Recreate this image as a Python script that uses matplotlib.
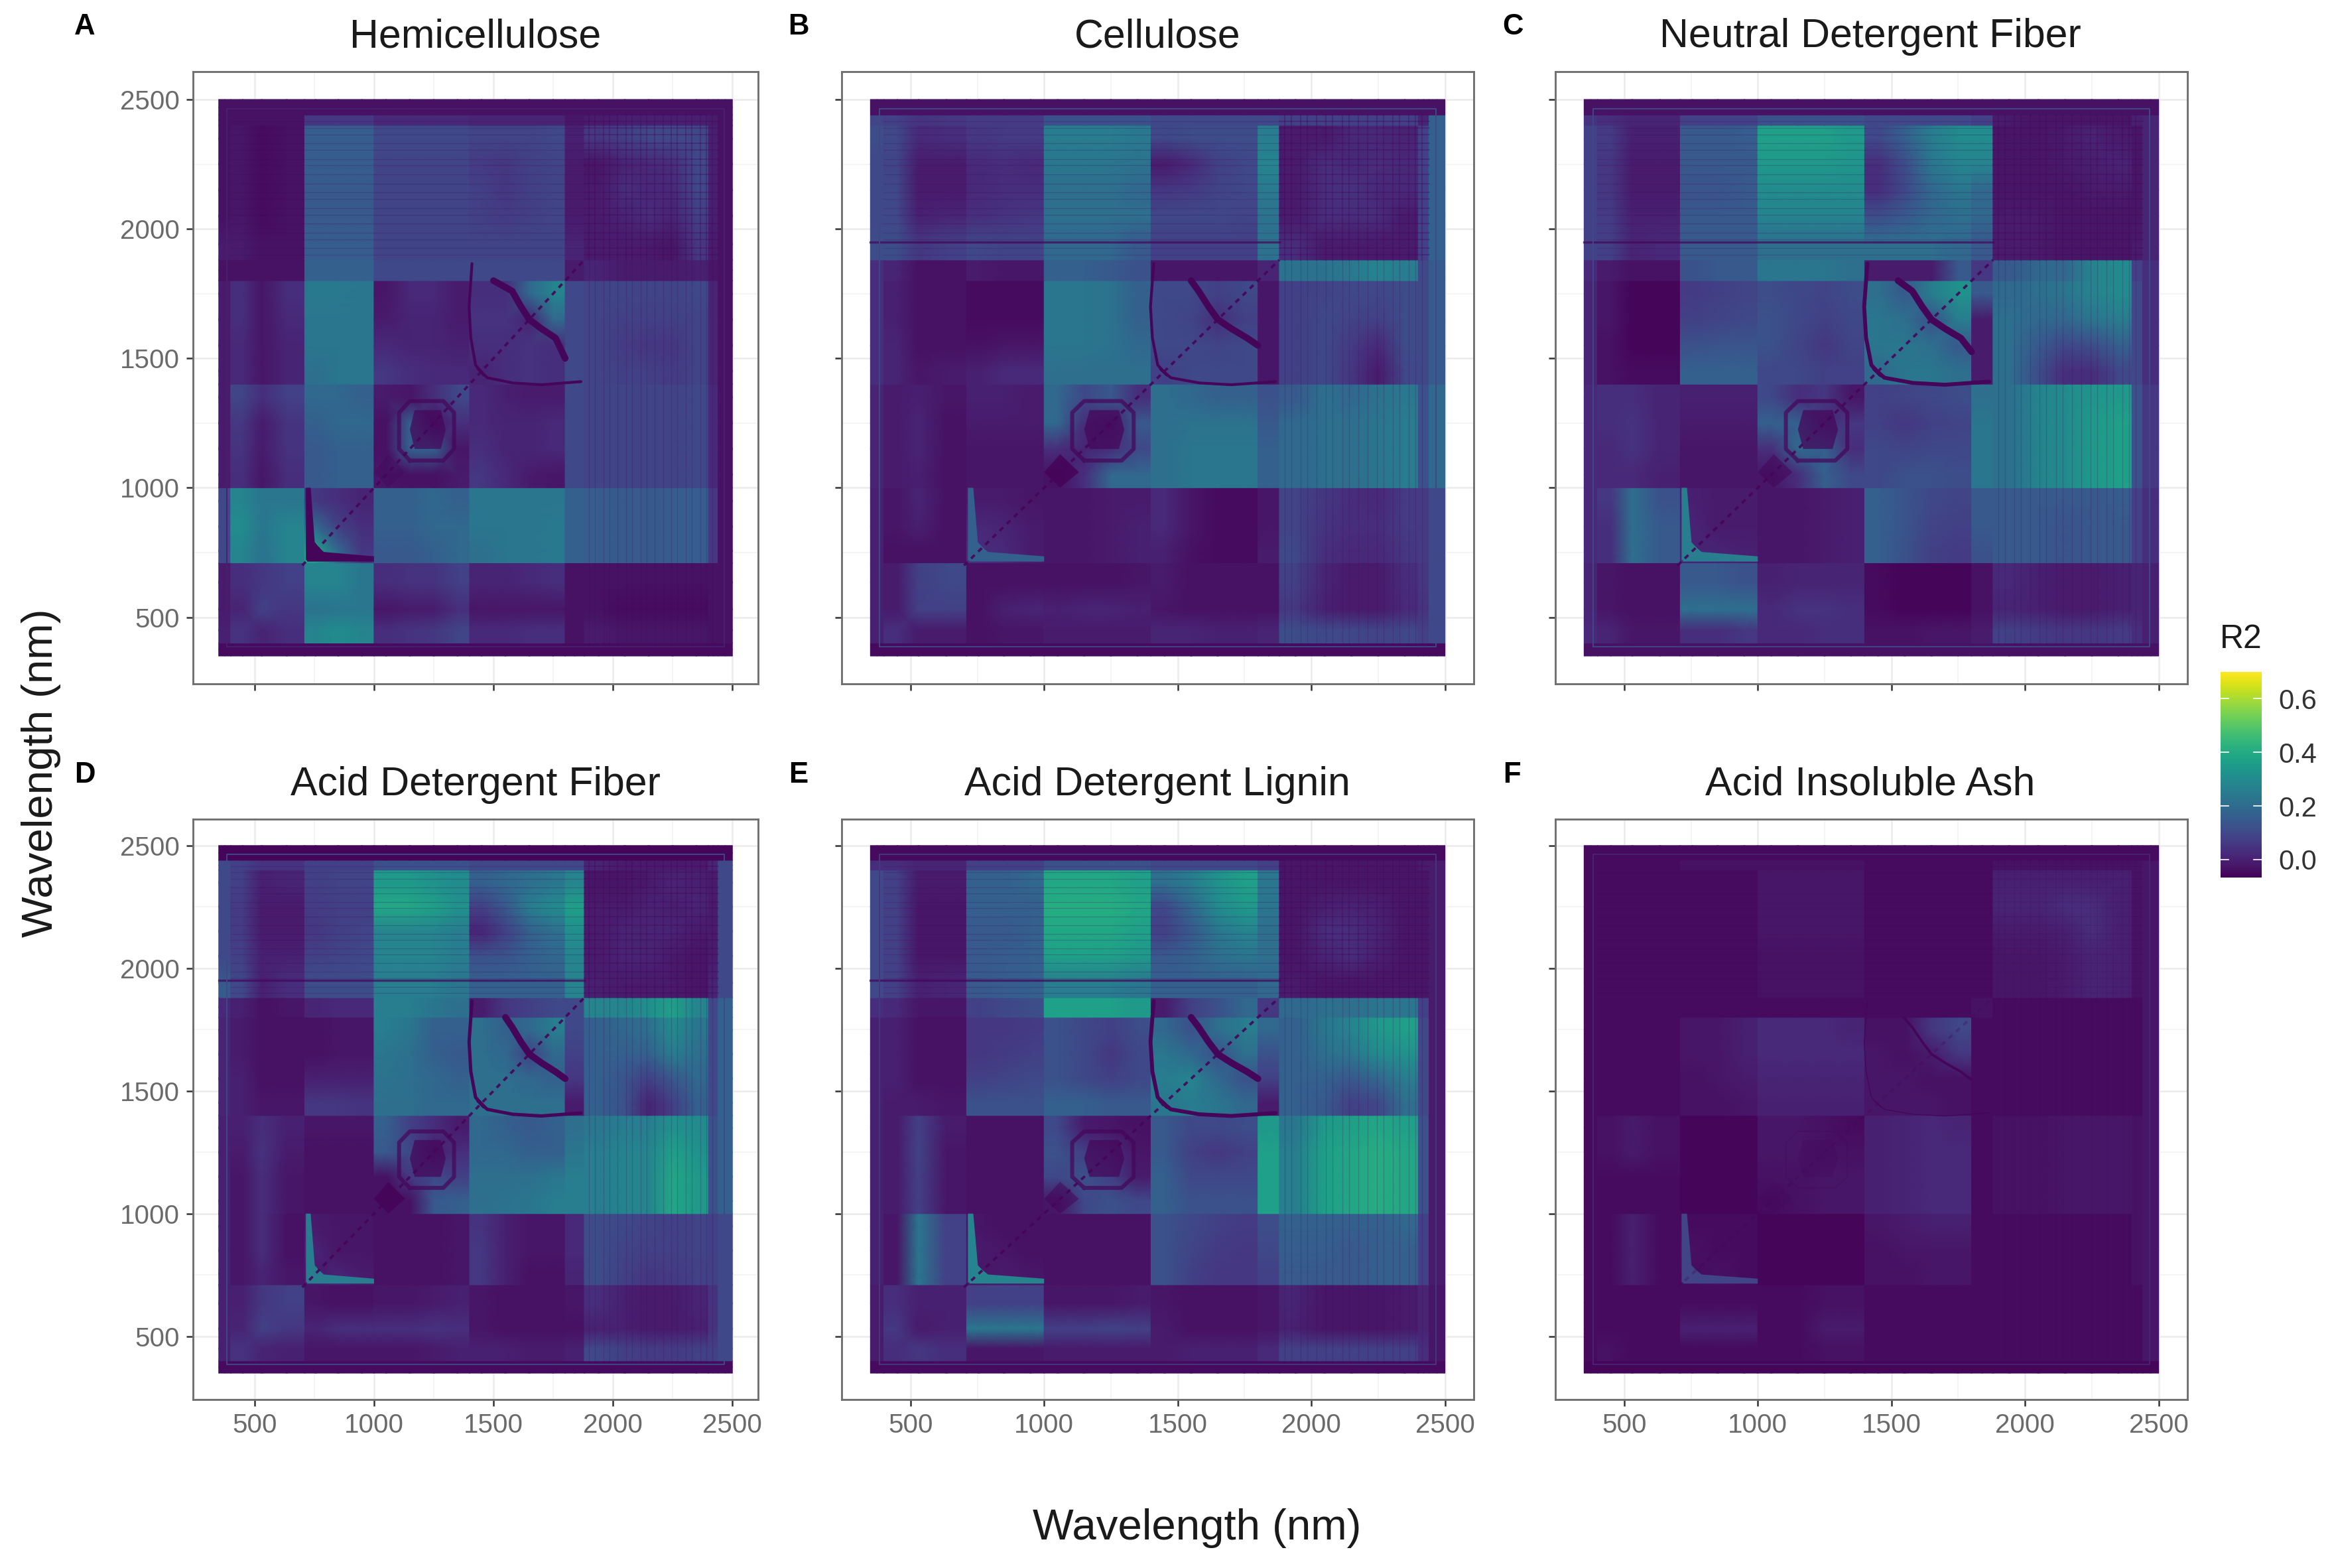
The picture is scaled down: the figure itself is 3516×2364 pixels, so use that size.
#!/usr/bin/env python
"""
R2 heatmaps of all wavelength pairs for six fibre traits
"""
import numpy as np
import matplotlib
matplotlib.use('Agg')
import matplotlib.pyplot as plt
from matplotlib.colors import Normalize

plt.rcParams['font.family'] = ['Liberation Sans', 'DejaVu Sans']

W, H = 3516, 2364

titles = ['Hemicellulose', 'Cellulose', 'Neutral Detergent Fiber',
          'Acid Detergent Fiber', 'Acid Detergent Lignin', 'Acid Insoluble Ash']
letters = ['A', 'B', 'C', 'D', 'E', 'F']
ticks = [500, 1000, 1500, 2000, 2500]
minor_ticks = [750, 1250, 1750, 2250]
cbar_ticks = [0.0, 0.2, 0.4, 0.6]

# wavelength bands (nm) the heatmap cells are read on
band_edges = [350, 400, 500, 560, 710, 800, 900, 1000, 1100, 1200, 1300, 1400,
              1500, 1600, 1700, 1800, 1880, 2000, 2100, 2200, 2300, 2400, 2440, 2500]
# bands that sit on one side of a detector seam
seam_groups = [[0], [1, 2, 3], [4, 5, 6], [7, 8, 9, 10], [11, 12, 13, 14], [15],
               [16, 17, 18, 19, 20], [21], [22]]

# R2 x 100, upper left half of each panel: one row per y band, x band up to the diagonal
hemi = [
    [2],
    [5, 9],
    [4, 6, 12],
    [4, 8, 10, 12],
    [14, 30, 25, 30, 38],
    [14, 32, 26, 30, 22, 12],
    [14, 30, 26, 26, 10, 8, 6],
    [4, 8, 3, 8, 18, 20, 20, 3],
    [4, 9, 4, 9, 18, 20, 20, 2, 20],
    [4, 10, 4, 9, 20, 22, 22, 2, 20, 3],
    [4, 13, 8, 12, 22, 22, 20, 4, 3, 8, 14],
    [4, 7, 3, 6, 24, 26, 26, 10, 8, 7, 7, 6],
    [4, 7, 3, 6, 26, 26, 26, 7, 6, 6, 5, 8, 8],
    [4, 8, 3, 7, 26, 26, 26, 4, 6, 6, 4, 9, 9, 6],
    [4, 8, 3, 8, 27, 27, 26, 3, 7, 7, 4, 8, 8, 22, 30],
    [2, 2, 2, 2, 20, 20, 20, 14, 14, 14, 14, 14, 14, 14, 14, 4],
    [4, 4, 2, 2, 19, 19, 19, 13, 13, 13, 13, 13, 13, 13, 13, 6, 4],
    [2, 3, 1, 2, 18, 18, 18, 13, 13, 13, 13, 12, 11, 12, 13, 4, 4, 6],
    [2, 3, 1, 2, 18, 18, 18, 13, 13, 13, 13, 12, 10, 12, 13, 4, 4, 8, 7],
    [2, 3, 1, 2, 19, 19, 19, 13, 13, 13, 13, 11, 10, 12, 13, 4, 3, 6, 7, 8],
    [2, 3, 1, 2, 19, 19, 19, 14, 14, 14, 14, 13, 13, 13, 14, 5, 10, 12, 14, 14, 14],
    [2, 2, 2, 2, 10, 10, 10, 7, 7, 7, 7, 6, 6, 6, 6, 3, 4, 5, 5, 5, 5, 4],
    [2, 2, 2, 2, 2, 2, 2, 2, 2, 2, 2, 2, 2, 2, 2, 2, 2, 2, 2, 2, 2, 2, 2],
]
cell = [
    [3],
    [5, 8],
    [5, 4, 12],
    [5, 4, 12, 14],
    [5, 2, 2, 2, 8],
    [5, 3, 5, 2, 7, 6],
    [5, 3, 6, 2, 4, 4, 3],
    [6, 4, 5, 2, 3, 3, 3, 2],
    [6, 4, 6, 2, 3, 3, 3, 8, 6],
    [6, 4, 6, 2, 4, 4, 4, 22, 8, 5],
    [6, 4, 5, 3, 5, 5, 4, 22, 14, 18, 8],
    [8, 6, 3, 4, 5, 7, 7, 24, 24, 24, 24, 12],
    [8, 6, 2, 2, 2, 3, 3, 26, 26, 25, 22, 14, 14],
    [8, 5, 2, 2, 1, 1, 1, 26, 26, 25, 20, 14, 13, 8],
    [8, 5, 2, 2, 1, 1, 1, 26, 26, 25, 20, 14, 14, 12, 14],
    [8, 6, 2, 2, 4, 3, 3, 20, 20, 18, 16, 3, 3, 3, 3, 6],
    [15, 15, 10, 12, 14, 13, 13, 22, 22, 22, 18, 12, 12, 12, 12, 25, 8],
    [14, 14, 5, 6, 8, 9, 10, 24, 24, 24, 24, 14, 14, 14, 13, 25, 4, 8],
    [14, 14, 4, 4, 7, 8, 8, 24, 24, 24, 22, 10, 11, 13, 14, 27, 4, 8, 9],
    [14, 13, 4, 4, 7, 8, 7, 26, 26, 26, 25, 4, 7, 12, 14, 30, 4, 8, 7, 8],
    [15, 14, 7, 8, 10, 11, 11, 28, 28, 28, 27, 14, 15, 15, 15, 28, 4, 4, 7, 7, 6],
    [13, 12, 9, 10, 11, 11, 11, 16, 16, 16, 16, 14, 14, 14, 14, 14, 12, 12, 12, 12, 12, 6],
    [14, 14, 14, 14, 14, 14, 14, 22, 22, 22, 22, 18, 18, 18, 18, 18, 20, 20, 20, 20, 20, 20, 5],
]
ndf = [
    [3],
    [7, 6],
    [6, 3, 2],
    [6, 3, 2, 2],
    [7, 8, 24, 18, 6],
    [7, 8, 24, 18, 6, 4],
    [7, 10, 24, 16, 5, 4, 4],
    [7, 7, 7, 5, 3, 3, 3, 3],
    [7, 7, 9, 6, 3, 3, 3, 8, 22],
    [7, 8, 9, 6, 4, 4, 4, 20, 20, 8],
    [7, 8, 8, 6, 5, 5, 5, 14, 8, 10, 3],
    [6, 2, 1, 1, 20, 20, 20, 14, 14, 12, 12, 22],
    [6, 2, 0, 0, 16, 17, 17, 16, 13, 10, 13, 26, 26],
    [6, 3, 0, 0, 12, 13, 14, 16, 14, 12, 14, 26, 24, 16],
    [6, 3, 0, 0, 11, 12, 13, 15, 14, 13, 15, 24, 18, 28, 34],
    [7, 4, 2, 2, 16, 18, 18, 26, 26, 26, 24, 4, 4, 4, 18, 10],
    [12, 12, 6, 7, 18, 18, 18, 24, 24, 24, 24, 24, 24, 24, 22, 18, 4],
    [12, 11, 5, 5, 18, 18, 18, 30, 30, 30, 30, 15, 18, 22, 24, 22, 4, 4],
    [12, 10, 4, 4, 17, 17, 18, 32, 32, 32, 32, 8, 14, 22, 26, 22, 3, 3, 3],
    [12, 10, 4, 4, 18, 18, 18, 36, 36, 36, 35, 8, 15, 26, 30, 30, 3, 3, 4, 5],
    [12, 11, 5, 5, 18, 18, 19, 38, 38, 38, 36, 14, 20, 28, 32, 32, 3, 3, 4, 6, 4],
    [9, 8, 6, 6, 12, 12, 12, 16, 16, 16, 16, 14, 14, 14, 14, 12, 4, 3, 3, 3, 3, 5],
    [5, 5, 5, 5, 8, 8, 8, 10, 10, 10, 10, 8, 8, 8, 8, 8, 6, 6, 6, 6, 6, 6, 5],
]
adf = [
    [3],
    [5, 9],
    [5, 6, 12],
    [5, 5, 10, 12],
    [5, 3, 6, 3, 4],
    [5, 3, 8, 2, 6, 3],
    [5, 3, 8, 2, 4, 3, 3],
    [5, 3, 8, 3, 2, 2, 2, 2],
    [5, 3, 8, 3, 2, 2, 2, 2, 10],
    [5, 4, 9, 4, 2, 2, 2, 18, 14, 5],
    [5, 5, 8, 5, 3, 3, 3, 20, 12, 8, 4],
    [6, 5, 3, 3, 10, 10, 9, 24, 24, 22, 22, 24],
    [6, 5, 2, 2, 5, 5, 5, 25, 24, 22, 20, 24, 24],
    [6, 4, 2, 2, 2, 3, 3, 26, 24, 20, 18, 24, 22, 12],
    [6, 4, 2, 2, 2, 3, 3, 28, 26, 20, 20, 24, 20, 22, 28],
    [7, 5, 2, 3, 6, 7, 7, 28, 28, 26, 24, 4, 10, 12, 14, 14],
    [18, 14, 5, 8, 15, 15, 15, 28, 28, 28, 26, 20, 20, 20, 20, 30, 5],
    [14, 12, 5, 5, 12, 13, 14, 30, 30, 30, 28, 16, 17, 20, 22, 30, 4, 6],
    [14, 11, 4, 4, 10, 12, 13, 30, 30, 30, 28, 6, 12, 20, 24, 33, 4, 6, 6],
    [14, 11, 4, 4, 11, 12, 12, 40, 40, 38, 34, 12, 18, 28, 32, 38, 4, 4, 6, 5],
    [14, 12, 5, 6, 12, 13, 13, 36, 36, 34, 32, 20, 22, 24, 26, 30, 3, 3, 4, 6, 5],
    [14, 12, 9, 9, 12, 12, 12, 16, 16, 16, 16, 14, 14, 14, 14, 14, 6, 4, 4, 4, 4, 6],
    [14, 14, 14, 14, 14, 14, 14, 20, 20, 20, 20, 20, 20, 20, 20, 20, 14, 14, 14, 14, 14, 14, 6],
]
adl = [
    [3],
    [4, 8],
    [4, 10, 4],
    [4, 8, 5, 5],
    [5, 3, 26, 12, 3],
    [5, 3, 26, 12, 4, 3],
    [5, 3, 26, 12, 3, 2, 2],
    [5, 4, 12, 3, 2, 2, 2, 3],
    [5, 4, 12, 3, 2, 2, 2, 14, 16],
    [5, 4, 13, 3, 2, 2, 2, 16, 12, 8],
    [5, 4, 12, 4, 2, 2, 2, 14, 4, 3, 2],
    [5, 4, 4, 3, 16, 16, 16, 20, 20, 18, 18, 26],
    [5, 5, 2, 2, 12, 13, 14, 16, 14, 12, 14, 28, 30],
    [5, 5, 2, 2, 10, 11, 12, 16, 14, 10, 14, 26, 22, 16],
    [5, 5, 2, 2, 10, 10, 11, 16, 14, 12, 15, 22, 16, 24, 28],
    [8, 7, 3, 3, 12, 14, 15, 38, 38, 38, 36, 4, 12, 16, 22, 10],
    [14, 12, 5, 6, 18, 19, 20, 28, 28, 28, 26, 20, 20, 20, 20, 22, 4],
    [14, 12, 3, 3, 18, 19, 20, 38, 38, 38, 36, 18, 20, 24, 26, 24, 3, 6],
    [14, 12, 3, 3, 18, 18, 20, 40, 40, 40, 38, 12, 18, 26, 30, 24, 3, 8, 8],
    [14, 12, 3, 3, 20, 20, 20, 42, 42, 42, 40, 14, 22, 32, 36, 26, 3, 5, 6, 5],
    [14, 12, 4, 4, 20, 20, 22, 40, 40, 40, 38, 24, 28, 34, 38, 26, 3, 3, 3, 3, 3],
    [8, 8, 6, 6, 12, 12, 12, 16, 16, 16, 16, 14, 14, 14, 14, 12, 3, 3, 3, 3, 3, 4],
    [3, 3, 3, 3, 4, 4, 4, 4, 4, 4, 4, 4, 4, 4, 4, 4, 4, 4, 4, 4, 4, 4, 3],
]
ash = [
    [1],
    [1, 2],
    [1, 1, 1],
    [1, 1, 1, 1],
    [1, 1, 5, 1, 1],
    [1, 1, 5, 1, 2, 1],
    [1, 1, 5, 1, 1, 1, 1],
    [1, 1, 1, 1, 0, 0, 0, 1],
    [1, 1, 1, 1, 0, 0, 0, 2, 2],
    [1, 2, 4, 2, 0, 0, 0, 3, 3, 2],
    [1, 2, 4, 2, 0, 0, 0, 3, 3, 2, 1],
    [1, 1, 1, 1, 2, 2, 3, 5, 5, 5, 5, 3],
    [1, 1, 1, 1, 2, 3, 4, 6, 6, 6, 6, 3, 3],
    [1, 1, 1, 1, 3, 3, 5, 7, 7, 7, 7, 3, 2, 4],
    [1, 1, 1, 1, 3, 3, 5, 7, 7, 7, 6, 2, 2, 10, 14],
    [1, 1, 1, 1, 1, 1, 1, 1, 1, 1, 1, 1, 1, 1, 1, 2],
    [1, 1, 1, 1, 1, 1, 1, 2, 2, 2, 2, 1, 1, 1, 1, 1, 3],
    [1, 1, 1, 1, 1, 1, 1, 2, 2, 2, 2, 1, 1, 1, 1, 1, 3, 3],
    [1, 1, 1, 1, 1, 1, 1, 3, 3, 3, 3, 1, 1, 1, 1, 1, 4, 4, 5],
    [1, 1, 1, 1, 1, 1, 1, 3, 3, 3, 3, 1, 1, 1, 1, 1, 6, 6, 8, 8],
    [1, 1, 1, 1, 1, 1, 1, 3, 3, 3, 3, 1, 1, 1, 1, 1, 5, 5, 5, 5, 5],
    [1, 1, 1, 1, 2, 2, 2, 2, 2, 2, 2, 1, 1, 1, 1, 1, 2, 2, 2, 2, 2, 2],
    [3, 3, 3, 3, 3, 3, 3, 3, 3, 3, 3, 3, 3, 3, 3, 3, 3, 3, 3, 3, 3, 3, 3],
]
panel_rows = [hemi, cell, ndf, adf, adl, ash]

# first and last y band do not mirror the columns, they stay dark in every panel
bottom_strip = [1, 1, 2, 1, 1, 0]
top_strip = [2, 2, 2, 0, 1, 1]

# dark contour ridges inside the 1400-1800 block, half of each, other half is the mirror
outer_arc_x = [1410, 1398, 1405, 1425, 1460]
outer_arc_y = [1866, 1700, 1580, 1474, 1435]
cross_arc_start = [1500, 1550, 1525, 1550, 1550, 1545]
cross_arc_y = [1800, 1760, 1700, 1650]
cross_arc_x = [0, 1578, 1615, 1650]

# rounded dark patch on the diagonal near 1200 nm and a smaller one near 1060 nm
ring_x = [1150, 1290, 1335, 1335, 1290, 1150, 1105, 1105, 1150]
ring_y = [1105, 1105, 1150, 1290, 1335, 1335, 1290, 1150, 1105]
patch_x = [1170, 1280, 1300, 1280, 1170, 1150, 1170]
patch_y = [1150, 1150, 1225, 1300, 1300, 1225, 1150]
blob_x = [1060, 1130, 1060, 1000, 1060]
blob_y = [1000, 1060, 1130, 1060, 1000]
blob_alpha = [0.35, 0.9, 0.55, 0.9, 0.55, 0.2]

# bright (or dark) L along the 710 nm seam
ell_x = [715, 735, 790, 1000, 1000, 720, 715]
ell_y = [1000, 800, 752, 735, 715, 715, 1000]
ell_value = [0, 20, 28, 28, 30, 13]

# detector artefacts show up as thin lines above 1880 nm
stripe_nm = [1900, 1925, 1960, 1985, 2020, 2055, 2080, 2115, 2140, 2175, 2210,
             2245, 2270, 2305, 2330, 2365, 2390, 2415]
has_dark_line = [False, True, True, True, True, False]

# inner frame the index leaves near both ends of the range
frame_lo, frame_hi = 385, 2465
frame_value = [5, 14, 14, 14, 10, 6]

# line width of arcs, per panel
arc_widths = [(1.0, 2.4), (1.0, 2.4), (1.4, 2.4), (1.2, 2.4), (1.4, 2.4), (0.3, 0.9)]

axes_px = [(291, 1143, 108, 1031), (1269, 2222, 108, 1031), (2345, 3298, 108, 1031),
           (291, 1143, 1235, 2110), (1269, 2222, 1235, 2110), (2345, 3298, 1235, 2110)]
title_x = [717, 1745, 2820, 717, 1745, 2820]
letter_x = [128, 1204, 2281, 128, 1204, 2279]

cmap = plt.get_cmap('viridis')
bar_norm = Normalize(vmin=-0.067, vmax=0.70)
img_norm = Normalize(vmin=-0.01, vmax=0.68)


def full_matrix(rows, bottom, top):
    n = len(rows)
    m = np.zeros((n, n))
    for i, row in enumerate(rows):
        for j, v in enumerate(row):
            m[i, j] = v
            m[j, i] = v
    m[0, :] = bottom
    m[-1, :] = top
    return m / 100.0


def draw_cells(ax, m, edges):
    # smooth inside a seam group, hard edge between groups
    centers = (edges[:-1] + edges[1:]) / 2.0
    for gy in seam_groups:
        yn = np.r_[edges[gy[0]], centers[gy], edges[gy[-1] + 1]]
        for gx in seam_groups:
            xn = np.r_[edges[gx[0]], centers[gx], edges[gx[-1] + 1]]
            vals = np.pad(m[np.ix_(gy, gx)], 1, mode='edge')
            ax.pcolormesh(xn, yn, vals, cmap=cmap, norm=img_norm, shading='gouraud',
                          rasterized=True)


def main():
    fig = plt.figure(figsize=(W / 300.0, H / 300.0), dpi=300)
    edges = np.array(band_edges, dtype=float)

    for k in range(6):
        left, right, top, bottom = axes_px[k]
        ax = fig.add_axes([left / W, 1 - bottom / H, (right - left) / W, (bottom - top) / H])
        ax.set_xlim(242.5, 2607.5)
        ax.set_ylim(242.5, 2607.5)
        ax.set_axisbelow(True)

        ax.set_xticks(ticks)
        ax.set_yticks(ticks)
        ax.set_xticks(minor_ticks, minor=True)
        ax.set_yticks(minor_ticks, minor=True)
        ax.grid(True, which='major', color='#ebebeb', lw=0.6)
        ax.grid(True, which='minor', color='#f2f2f2', lw=0.4)
        ax.tick_params(which='minor', length=0)
        ax.tick_params(which='major', length=2.4, width=0.6, color='#333333',
                       labelsize=9.7, labelcolor='#6a6a6a', pad=2.5)
        if k < 3:
            ax.tick_params(labelbottom=False)
        if k % 3 != 0:
            ax.tick_params(labelleft=False)
        for s in ax.spines.values():
            s.set_color('#707070')
            s.set_linewidth(0.7)

        m = full_matrix(panel_rows[k], bottom_strip[k], top_strip[k])
        draw_cells(ax, m, edges)

        line_dark = cmap(img_norm(0.0))
        a = 0.35 if k == 5 else 1.0
        # thin detector lines, kept inside the heatmap
        for nm in stripe_nm:
            ax.plot([nm, nm], [400, 1880], color=line_dark, lw=0.3, alpha=0.22 * a)
            ax.plot([400, 1880], [nm, nm], color=line_dark, lw=0.3, alpha=0.22 * a)
            ax.plot([nm, nm], [1880, 2440], color=line_dark, lw=0.45, alpha=0.35 * a)
            ax.plot([1880, 2440], [nm, nm], color=line_dark, lw=0.45, alpha=0.35 * a)
        if has_dark_line[k]:
            ax.plot([350, 1880], [1950, 1950], color=line_dark, lw=0.8, alpha=0.7)
        ax.plot([frame_lo, frame_hi, frame_hi, frame_lo, frame_lo],
                [frame_lo, frame_lo, frame_hi, frame_hi, frame_lo],
                color=cmap(img_norm(frame_value[k] / 100.0)), lw=0.45)

        # bright or dark L on the 710 nm seam
        ax.fill(ell_x, ell_y, color=cmap(img_norm(ell_value[k] / 100.0)), lw=0)
        ax.fill(ell_y, ell_x, color=cmap(img_norm(ell_value[k] / 100.0)), lw=0)

        # contour ridges, mirrored over the diagonal
        w1, w2 = arc_widths[k]
        ox = outer_arc_x + outer_arc_y[::-1]
        oy = outer_arc_y + outer_arc_x[::-1]
        ax.plot(ox, oy, color=line_dark, lw=w1, solid_capstyle='round')
        cx = [cross_arc_start[k]] + cross_arc_x[1:]
        ccx = cx + cross_arc_y[-2::-1]
        ccy = cross_arc_y + cx[-2::-1]
        ax.plot(ccx, ccy, color=line_dark, lw=w2, solid_capstyle='round')

        # dark patches around the diagonal
        ax.plot(ring_x, ring_y, color=line_dark, lw=w2 * 0.6, alpha=0.7 * a, solid_joinstyle='round')
        ax.fill(patch_x, patch_y, color=line_dark, alpha=0.7 * a, lw=0)
        ax.fill(blob_x, blob_y, color=line_dark, alpha=blob_alpha[k], lw=0)

        # diagonal
        ax.plot([700, 1880], [700, 1880], color=line_dark, lw=0.9, ls=(0, (2, 2)), alpha=0.9 * a)

        fig.text(title_x[k] / W, 1 - (top - 52) / H, titles[k], fontsize=14.6,
                 ha='center', va='center', color='#1a1a1a')
        fig.text(letter_x[k] / W, 1 - (top - 67) / H, letters[k], fontsize=10.5,
                 fontweight='bold', ha='center', va='center', color='black')

    fig.text(1805 / W, 1 - 2304 / H, 'Wavelength (nm)', fontsize=15.7,
             ha='center', va='center', color='#1a1a1a')
    fig.text(62 / W, 1 - 1165 / H, 'Wavelength (nm)', fontsize=15.7, rotation=90,
             ha='center', va='center', color='#1a1a1a')

    # colour bar
    cax = fig.add_axes([3348 / W, 1 - 1323 / H, 62 / W, 310 / H])
    sm = plt.cm.ScalarMappable(norm=bar_norm, cmap=cmap)
    cb = fig.colorbar(sm, cax=cax, ticks=cbar_ticks)
    cb.outline.set_visible(False)
    cb.ax.tick_params(length=0, labelsize=10, labelcolor='#333333', pad=6)
    for t in cbar_ticks:
        cb.ax.plot([0, 0.2], [t, t], color='white', lw=0.4, transform=cb.ax.get_yaxis_transform())
        cb.ax.plot([0.8, 1], [t, t], color='white', lw=0.4, transform=cb.ax.get_yaxis_transform())
    fig.text(3379 / W, 1 - 964 / H, 'R2', fontsize=12, ha='center', va='center', color='#1a1a1a')

    fig.savefig('out.png', dpi=300, facecolor='white')


if __name__ == '__main__':
    main()
